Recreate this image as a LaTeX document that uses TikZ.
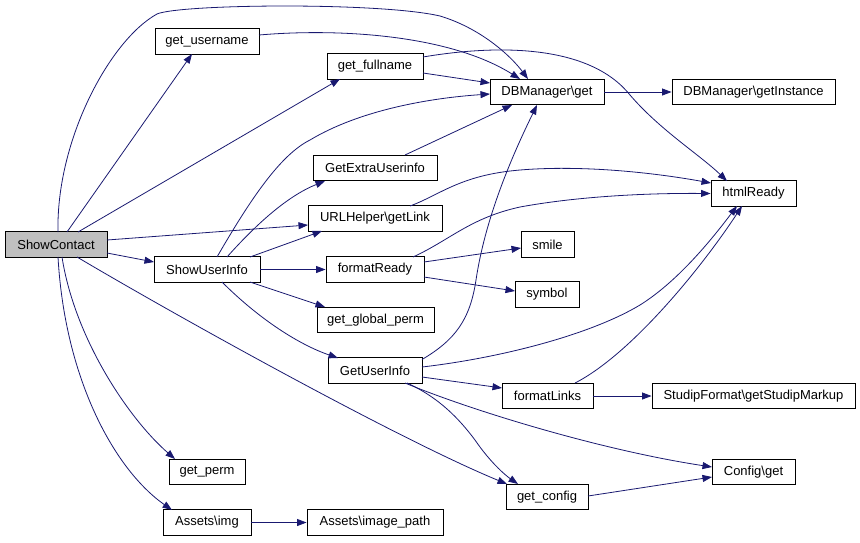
\documentclass[tikz,border=0pt]{standalone}
\usepackage{fontspec}
\setmainfont{Liberation Sans}
\usetikzlibrary{arrows.meta,calc}
\definecolor{edgecol}{RGB}{25,25,112}
\definecolor{rootfill}{RGB}{191,191,191}
\begin{document}
\begin{tikzpicture}[x=1pt,y=-1pt,
  fn/.style={draw=black,line width=0.9pt,fill=white,inner sep=0pt,minimum height=25.5pt,font=\fontsize{13}{15}\selectfont},
  root/.style={fn,fill=rootfill},
  call/.style={draw=edgecol,line width=0.8pt,-{Triangle[length=9.5pt,width=7pt]}}]
\useasboundingbox (0,0) rectangle (860,542);
% nodes
\node[root,minimum width=102pt] (sc) at (56,244.5) {ShowContact};
\node[fn,minimum width=104pt] (gu) at (207,41.5) {get\_username};
\node[fn,minimum width=96pt] (gf) at (375,66.5) {get\_fullname};
\node[fn,minimum width=114pt] (dbg) at (547,92) {DBManager\textbackslash get};
\node[fn,minimum width=163pt] (dbi) at (753.5,92) {DBManager\textbackslash getInstance};
\node[fn,minimum width=124pt] (gex) at (375,168) {GetExtraUserinfo};
\node[fn,minimum width=85pt] (hr) at (753.5,193.5) {htmlReady};
\node[fn,minimum width=134pt] (url) at (375,218.5) {URLHelper\textbackslash getLink};
\node[fn,minimum width=106pt] (sui) at (207,269.5) {ShowUserInfo};
\node[fn,minimum width=98pt] (fr) at (375,269.5) {formatReady};
\node[fn,minimum width=53pt] (sm) at (547.5,244.5) {smile};
\node[fn,minimum width=64pt] (sy) at (547,294.5) {symbol};
\node[fn,minimum width=117pt] (ggp) at (375.5,320) {get\_global\_perm};
\node[fn,minimum width=94pt] (gui) at (375,370.5) {GetUserInfo};
\node[fn,minimum width=91pt] (fl) at (547.5,396) {formatLinks};
\node[fn,minimum width=203pt] (sf) at (753.5,396) {StudipFormat\textbackslash getStudipMarkup};
\node[fn,minimum width=83pt] (cg) at (753.5,472) {Config\textbackslash get};
\node[fn,minimum width=76pt] (gp) at (207,472) {get\_perm};
\node[fn,minimum width=82pt] (gc) at (547,497) {get\_config};
\node[fn,minimum width=88pt] (ai) at (207,522.5) {Assets\textbackslash img};
\node[fn,minimum width=136pt] (aip) at (375,522.5) {Assets\textbackslash image\_path};
% edges from ShowContact
\draw[call] ($(sc)+(2,-12.5)$) .. controls (56,140) and (110,40) .. (157,14)
  .. controls (180,4) and (380,2) .. (440,16) .. controls (480,28) and (510,55) .. ($(dbg)+(-19,-13)$);
\draw[call] ($(sc)+(11,-12.5)$) -- ($(gu)+(-15,12.5)$);
\draw[call] ($(sc)+(22,-12.5)$) -- ($(gf)+(-35,12.5)$);
\draw[call] ($(sc)+(51,-4.5)$) -- ($(url)+(-67,6.5)$);
\draw[call] ($(sc)+(51,8.5)$) -- ($(sui)+(-53,-7.5)$);
\draw[call] ($(sc)+(21,12.5)$) .. controls (180,318) and (400,440) .. ($(gc)+(-40,-13)$);
\draw[call] ($(sc)+(6,12.5)$) .. controls (75,340) and (130,420) .. ($(gp)+(-32,-13)$);
\draw[call] ($(sc)+(2,12.5)$) .. controls (65,380) and (115,470) .. ($(ai)+(-35,-12.5)$);
% get_username, get_fullname
\draw[call] ($(gu)+(52,-6.5)$) .. controls (340,28) and (450,35) .. ($(dbg)+(-27,-13)$);
\draw[call] ($(gf)+(48,6.5)$) -- ($(dbg)+(-57,-9)$);
\draw[call] ($(gf)+(48,-9.5)$) .. controls (500,44) and (590,45) .. (630,95)
  .. controls (660,130) and (700,155) .. ($(hr)+(-26.5,-12.5)$);
% GetExtraUserinfo
\draw[call] ($(gex)+(30,-13)$) -- ($(dbg)+(-35,13)$);
% ShowUserInfo
\draw[call] ($(sui)+(10,-12.5)$) .. controls (250,200) and (280,155) .. (310,140)
  .. controls (360,110) and (430,98) .. ($(dbg)+(-57,2)$);
\draw[call] ($(sui)+(20,-12.5)$) .. controls (260,220) and (290,195) .. ($(gex)+(-50,13)$);
\draw[call] ($(sui)+(43,-12.5)$) -- ($(url)+(-53,12.5)$);
\draw[call] (sui.east) -- (fr.west);
\draw[call] ($(sui)+(43,12.5)$) -- ($(ggp)+(-50.5,-13)$);
\draw[call] ($(sui)+(15,12.5)$) .. controls (260,320) and (300,345) .. ($(gui)+(-37,-12.5)$);
% URLHelper, formatReady
\draw[call] ($(url)+(35,-12.5)$) .. controls (440,195) and (460,175) .. (520,170)
  .. controls (580,165) and (650,172) .. ($(hr)+(-42.5,-10.5)$);
\draw[call] ($(fr)+(38,-12.5)$) .. controls (450,240) and (470,218) .. (520,207)
  .. controls (580,196) and (650,193) .. (hr.west);
\draw[call] ($(fr)+(49,-7.5)$) -- ($(sm)+(-26.5,3.5)$);
\draw[call] ($(fr)+(49,7.5)$) -- ($(sy)+(-32,-3.5)$);
% GetUserInfo
\draw[call] ($(gui)+(47,-11)$) .. controls (455,340) and (470,320) .. (476,280)
  .. controls (485,220) and (510,160) .. ($(dbg)+(-10,13)$);
\draw[call] ($(gui)+(47,-3.5)$) .. controls (500,358) and (590,335) .. (640,305)
  .. controls (680,280) and (715,235) .. ($(hr)+(-16.5,12.5)$);
\draw[call] ($(gui)+(47,6.5)$) -- ($(fl)+(-45.5,-8)$);
\draw[call] ($(gui)+(30,12.5)$) .. controls (470,410) and (600,450) .. ($(cg)+(-41.5,-5)$);
\draw[call] ($(gui)+(32,12.5)$) .. controls (440,398) and (460,420) .. (475,440)
  .. controls (490,462) and (505,475) .. ($(gc)+(-29,-13)$);
% formatLinks
\draw[call] ($(fl)+(27.5,-13)$) .. controls (630,355) and (700,270) .. ($(hr)+(-11.5,12.5)$);
\draw[call] (fl.east) -- (sf.west);
% others
\draw[call] ($(gc)+(41,-1)$) -- ($(cg)+(-41.5,5)$);
\draw[call] (dbg.east) -- (dbi.west);
\draw[call] (ai.east) -- (aip.west);
\end{tikzpicture}
\end{document}
